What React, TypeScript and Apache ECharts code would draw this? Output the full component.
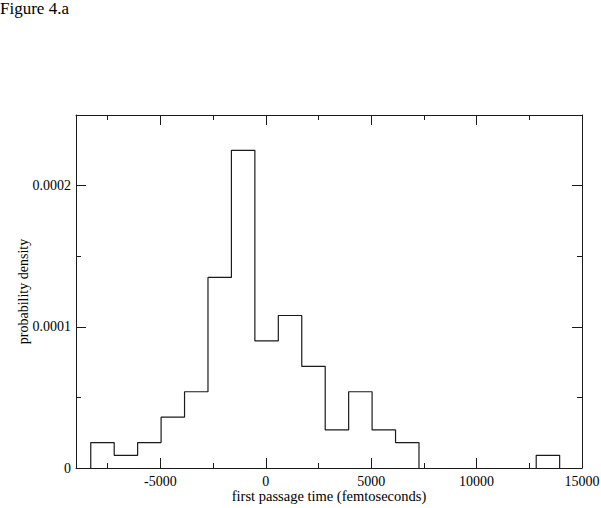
import React, { useEffect, useRef } from "react";
import * as echarts from "echarts";

// Histogram bin edges (femtoseconds) and probability densities
const binEdges = [
  -8300, -7188, -6076, -4964, -3852, -2740, -1628, -516, 596, 1708, 2820,
  3932, 5044, 6156, 7268, 8380, 9492, 10604, 11716, 12828, 13940,
];
const densities = [
  0.000018, 0.000009, 0.000018, 0.000036, 0.000054, 0.000135, 0.000225,
  0.00009, 0.000108, 0.000072, 0.000027, 0.000054, 0.000027, 0.000018, 0, 0,
  0, 0, 0, 0.000009,
];
const xMajorTicks = [-5000, 0, 5000, 10000, 15000];
const xMinorTicks = [-7500, -2500, 2500, 7500, 12500];
const yMajorTicks = [0, 0.0001, 0.0002];
const yMinorTicks = [0.00005, 0.00015];

const FONT = "'Liberation Serif', 'DejaVu Serif', serif";
const INK = "#1a1a1a";

export default function App() {
  const ref = useRef<HTMLDivElement>(null);
  useEffect(() => {
    document.body.style.margin = "0";
    if (!ref.current) return;
    const chart = echarts.init(ref.current, null, { renderer: "svg" });

    // Build step outlines, one per run of non-empty bins
    const runs: number[][][] = [];
    let cur: number[][] | null = null;
    densities.forEach((d, i) => {
      if (d > 0) {
        if (!cur) {
          cur = [[binEdges[i], 0]];
          runs.push(cur);
        }
        cur.push([binEdges[i], d]);
        cur.push([binEdges[i + 1], d]);
        if (i === densities.length - 1 || densities[i + 1] === 0) {
          cur.push([binEdges[i + 1], 0]);
          cur = null;
        }
      }
    });

    const xBase = {
      type: "value" as const,
      min: -9000,
      max: 15000,
      splitLine: { show: false },
    };
    const yBase = {
      type: "value" as const,
      min: 0,
      max: 0.00025,
      splitLine: { show: false },
    };
    const lineOn = { show: true, onZero: false, lineStyle: { color: INK, width: 1 } };
    const lineOff = { show: false, onZero: false };
    const tick = (vals: number[], len: number) => ({
      show: true,
      inside: true,
      length: len,
      customValues: vals,
      lineStyle: { color: INK, width: 1 },
    });

    chart.setOption({
      animation: false,
      backgroundColor: "#fff",
      graphic: [
        {
          type: "text",
          left: 0,
          top: 0,
          style: {
            text: "Figure 4.a",
            font: `17px ${FONT}`,
            fill: "#000",
          },
        },
      ],
      grid: {
        left: 76,
        right: 19,
        top: 115,
        bottom: 40,
        containLabel: false,
        outerBoundsMode: "none",
      },
      xAxis: [
        {
          ...xBase,
          position: "bottom",
          axisLine: lineOn,
          axisTick: tick(xMajorTicks, 10),
          axisLabel: {
            show: true,
            customValues: xMajorTicks,
            margin: 6,
            fontFamily: FONT,
            fontSize: 14,
            color: "#000",
            formatter: (v: number) => String(v),
          },
          name: "first passage time (femtoseconds)",
          nameLocation: "middle",
          nameGap: 20,
          nameMoveOverlap: false,
          nameTextStyle: { fontFamily: FONT, fontSize: 14.5, color: "#000" },
        },
        { ...xBase, position: "bottom", axisLine: lineOff, axisTick: tick(xMinorTicks, 5), axisLabel: { show: false } },
        { ...xBase, position: "top", axisLine: lineOn, axisTick: tick(xMajorTicks, 10), axisLabel: { show: false } },
        { ...xBase, position: "top", axisLine: lineOff, axisTick: tick(xMinorTicks, 5), axisLabel: { show: false } },
      ],
      yAxis: [
        {
          ...yBase,
          position: "left",
          axisLine: lineOn,
          axisTick: tick(yMajorTicks, 10),
          axisLabel: {
            show: true,
            customValues: yMajorTicks,
            margin: 5,
            fontFamily: FONT,
            fontSize: 14,
            color: "#000",
            formatter: (v: number) => (v === 0 ? "0" : v.toFixed(4)),
          },
          name: "probability density",
          nameLocation: "middle",
          nameGap: 46,
          nameRotate: 90,
          nameMoveOverlap: false,
          nameTextStyle: { fontFamily: FONT, fontSize: 14, color: "#000" },
        },
        { ...yBase, position: "left", axisLine: lineOff, axisTick: tick(yMinorTicks, 5), axisLabel: { show: false } },
        { ...yBase, position: "right", axisLine: lineOn, axisTick: tick(yMajorTicks, 10), axisLabel: { show: false } },
        { ...yBase, position: "right", axisLine: lineOff, axisTick: tick(yMinorTicks, 5), axisLabel: { show: false } },
      ],
      series: runs.map((pts) => ({
        type: "line",
        xAxisIndex: 0,
        yAxisIndex: 0,
        data: pts,
        symbol: "none",
        lineStyle: { color: INK, width: 1.2 },
        silent: true,
      })),
    });
    return () => chart.dispose();
  }, []);
  return (
    <div
      ref={ref}
      style={{ position: "absolute", left: 0, top: 0, width: 601, height: 508 }}
    />
  );
}
